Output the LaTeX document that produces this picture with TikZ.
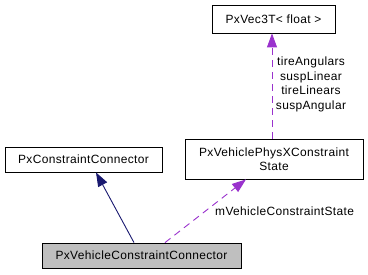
\documentclass[tikz,border=0pt]{standalone}
\usepackage{fontspec}
\setmainfont{Liberation Sans}[LetterSpace=3]
\usetikzlibrary{arrows.meta}
\definecolor{inherit}{HTML}{191970}
\definecolor{usage}{HTML}{9A32CD}
\begin{document}
\begin{tikzpicture}[x=1bp,y=-1bp,
  cls/.style={draw=black, line width=0.8bp, fill=white, inner sep=0pt, font=\fontsize{12}{14}\selectfont, align=center},
  inh/.style={draw=inherit, line width=0.9bp, -{Triangle[length=14bp,width=10bp,fill=inherit]}},
  use/.style={draw=usage, line width=0.9bp, dash pattern=on 7bp off 5bp, -{Triangle[length=14bp,width=10bp,fill=usage]}},
  lbl/.style={font=\fontsize{12}{14.5}\selectfont, inner sep=0pt, align=center}]
\useasboundingbox (0,0) rectangle (368,275);
\node[cls, minimum width=123bp, minimum height=28bp] (vec) at (273.5,19) {PxVec3T< float >};
\node[cls, minimum width=178bp, minimum height=40bp] (state) at (274,159) {PxVehiclePhysXConstraint\\State};
\node[cls, minimum width=157bp, minimum height=25bp] (base) at (83.5,159.5) {PxConstraintConnector};
\node[cls, fill={rgb,255:red,191;green,191;blue,191}, minimum width=199bp, minimum height=25bp] (conn) at (141.5,255.5) {PxVehicleConstraintConnector};
\draw[inh] (conn.north -| 134,0) -- (base.south -| 96,0);
\draw[use] (conn.north -| 165,0) -- (state.south -| 246,0);
\draw[use] (state.north -| 272,0) -- (vec.south -| 272,0);
\node[lbl, anchor=west] (m) at (215,211) {mVehicleConstraintState};
\node[lbl] (v) at (311,84.5) {tireAngulars\\suspLinear\\tireLinears\\suspAngular};
\end{tikzpicture}
\end{document}
